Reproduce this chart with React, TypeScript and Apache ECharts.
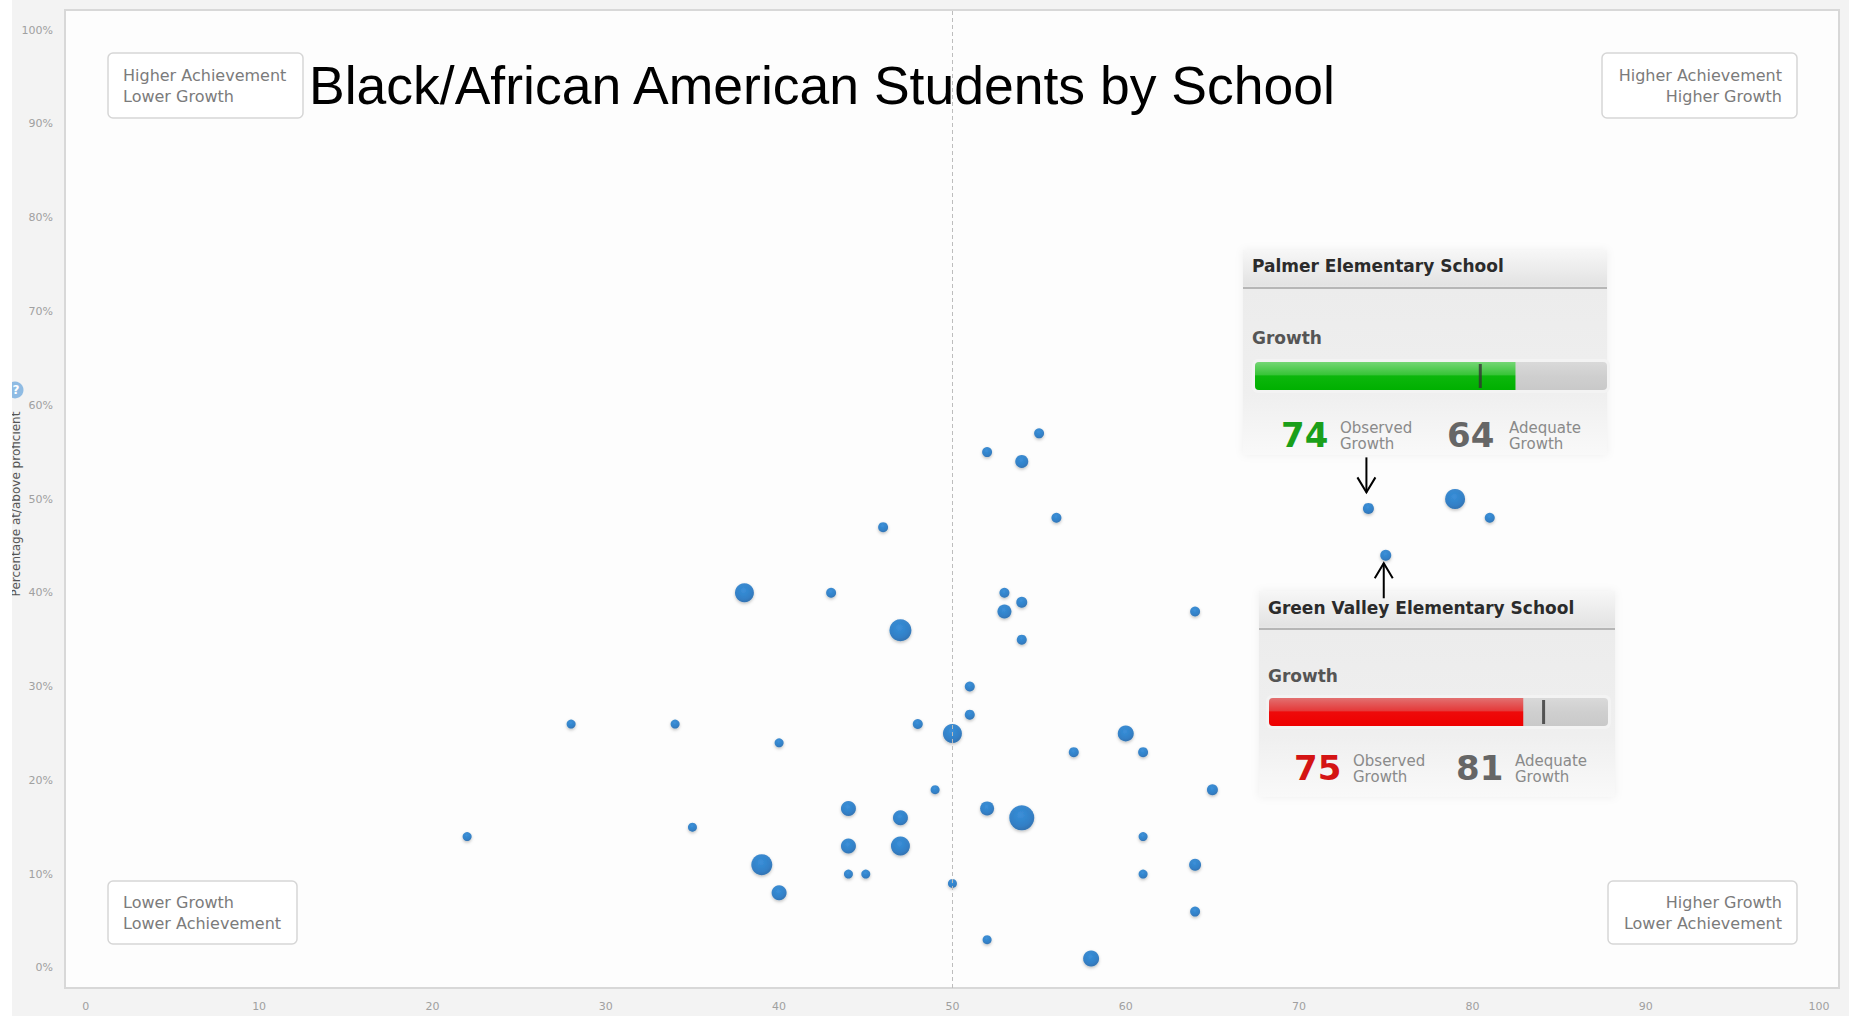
import React, { useEffect, useRef } from "react";
import * as echarts from "echarts";

// ---- data ----
const growthPct = [22, 28, 34, 35, 38, 39, 40, 40, 43, 44, 44, 44, 45, 46, 47, 47, 47, 48, 49, 50, 50, 51, 51, 52, 52, 52, 53, 53, 54, 54, 54, 54, 55, 56, 57, 58, 60, 61, 61, 61, 64, 64, 64, 65, 74, 75, 79, 81];
const achievementPct = [14, 26, 26, 15, 40, 11, 24, 8, 40, 17, 13, 10, 10, 47, 36, 16, 13, 26, 19, 25, 9, 30, 27, 55, 17, 3, 40, 38, 54, 39, 35, 16, 57, 48, 23, 1, 25, 23, 14, 10, 38, 11, 6, 19, 49, 44, 50, 48];
const bubbleWeight = [9, 9, 9, 9, 19, 21, 9, 15, 10, 15, 15, 9, 9, 10, 22, 15, 19, 10, 9, 19, 9, 10, 10, 10, 14, 9, 10, 14, 13, 11, 10, 25, 10, 10, 10, 16, 16, 10, 9, 9, 10, 12, 10, 11, 11, 11, 20, 10];
const xTicks = [0, 10, 20, 30, 40, 50, 60, 70, 80, 90, 100];
const yTicks = [0, 10, 20, 30, 40, 50, 60, 70, 80, 90, 100];
const growthMedian = 50;
const chartTitle = "Black/African American Students by School";
const yAxisName = "Percentage at/above proficient";
const quadrantTL = ["Higher Achievement", "Lower Growth"];
const quadrantTR = ["Higher Achievement", "Higher Growth"];
const quadrantBL = ["Lower Growth", "Lower Achievement"];
const quadrantBR = ["Higher Growth", "Lower Achievement"];
const highlightedSchools = ["Palmer Elementary School", "Green Valley Elementary School"];
const observedGrowth = [74, 75];
const adequateGrowth = [64, 81];
const highlightedPoints = [[74, 49], [75, 44]];

const FONT = "DejaVu Sans";

const lin = (stops: [number, string][]) => ({
  type: "linear", x: 0, y: 0, x2: 0, y2: 1,
  colorStops: stops.map(([offset, color]) => ({ offset, color })),
});

function quadBox(x: number, y: number, w: number, h: number, lines: string[], right: boolean, id: string) {
  return [
    { id: id + "r", type: "rect", z: 15, shape: { x, y, width: w, height: h, r: 5 }, style: { fill: "#ffffff", stroke: "#d6d6d6", lineWidth: 1.5 } },
    {
      id: id + "t", type: "text", z: 16, x: right ? x + w - 15 : x + 15, y: y + h / 2,
      style: { text: lines.join("\n"), fill: "#7b7b7b", fontFamily: FONT, fontSize: 16, lineHeight: 21, align: right ? "right" : "left", verticalAlign: "middle" },
    },
  ];
}

type PanelLayout = {
  x: number; y: number; w: number; h: number; lineY: number;
  headX: number; headY: number; growthY: number; numY: number;
  n1: number; l1: number; n2: number; l2: number; barL: number; barT: number; barW: number;
};

const panelLayouts: PanelLayout[] = [
  { x: 1243, y: 250, w: 364, h: 205, lineY: 288, headX: 1252, headY: 266, growthY: 338, numY: 435, n1: 1281, l1: 1340, n2: 1447, l2: 1509, barL: 1255, barT: 362, barW: 352 },
  { x: 1259, y: 591, w: 356, h: 206, lineY: 629, headX: 1268, headY: 608, growthY: 676, numY: 768, n1: 1294, l1: 1353, n2: 1456, l2: 1515, barL: 1269, barT: 698, barW: 339 },
];
const obsColors = ["#1a9f1a", "#d41414"];

function panel(i: number) {
  const p = panelLayouts[i];
  const id = "p" + i;
  return [
    { id: id + "bg", type: "rect", z: 14, shape: { x: p.x, y: p.y, width: p.w, height: p.h }, style: { fill: lin([[0, "#f7f7f7"], [0.17, "#e3e3e3"], [0.19, "#ececec"], [0.7, "#efefef"], [1, "#f9f9f9"]]), shadowBlur: 8, shadowColor: "rgba(0,0,0,0.06)" } },
    { id: id + "ln", type: "line", z: 15, shape: { x1: p.x, y1: p.lineY, x2: p.x + p.w, y2: p.lineY }, style: { stroke: "#a5a5a5", lineWidth: 1.5 } },
    { id: id + "hd", type: "text", z: 25, x: p.headX, y: p.headY, style: { text: highlightedSchools[i], fill: "#2b2b2b", fontFamily: FONT, fontWeight: "bold", fontSize: 17, align: "left", verticalAlign: "middle" } },
    { id: id + "gr", type: "text", z: 25, x: p.headX, y: p.growthY, style: { text: "Growth", fill: "#555555", fontFamily: FONT, fontWeight: "bold", fontSize: 17, align: "left", verticalAlign: "middle" } },
    { id: id + "bw", type: "rect", z: 15, shape: { x: p.barL - 3, y: p.barT - 3, width: p.barW + 6, height: 34, r: 6 }, style: { fill: "#f3f3f3" } },
    { id: id + "n1", type: "text", z: 25, x: p.n1, y: p.numY, style: { text: String(observedGrowth[i]), fill: obsColors[i], fontFamily: FONT, fontWeight: "bold", fontSize: 34, align: "left", verticalAlign: "middle" } },
    { id: id + "l1", type: "text", z: 25, x: p.l1, y: p.numY + 1, style: { text: "Observed\nGrowth", fill: "#8a8a8a", fontFamily: FONT, fontSize: 15, lineHeight: 16, align: "left", verticalAlign: "middle" } },
    { id: id + "n2", type: "text", z: 25, x: p.n2, y: p.numY, style: { text: String(adequateGrowth[i]), fill: "#666666", fontFamily: FONT, fontWeight: "bold", fontSize: 34, align: "left", verticalAlign: "middle" } },
    { id: id + "l2", type: "text", z: 25, x: p.l2, y: p.numY + 1, style: { text: "Adequate\nGrowth", fill: "#8a8a8a", fontFamily: FONT, fontSize: 15, lineHeight: 16, align: "left", verticalAlign: "middle" } },
  ];
}

function barSeries(i: number) {
  const colors = i === 0
    ? lin([[0, "#74d674"], [0.45, "#39c439"], [0.5, "#0cb70c"], [1, "#00b000"]])
    : lin([[0, "#e27070"], [0.45, "#e53a3a"], [0.5, "#ee0a0a"], [1, "#ee0000"]]);
  return [
    {
      type: "bar", xAxisIndex: i + 1, yAxisIndex: i + 1, data: [observedGrowth[i]], barWidth: 28, z: 20, silent: true,
      showBackground: true,
      backgroundStyle: { color: lin([[0, "#d9d9d9"], [0.5, "#cfcfcf"], [1, "#c9c9c9"]]), borderRadius: 4 },
      itemStyle: { color: colors, borderRadius: [4, 0, 0, 4] },
    },
    {
      type: "scatter", xAxisIndex: i + 1, yAxisIndex: i + 1, z: 22, silent: true,
      data: [[adequateGrowth[i], 0]],
      symbol: "rect", symbolSize: [3, 24],
      itemStyle: { color: "#333333" },
    },
  ];
}

function buildOption(arrows: any[]) {
  const scatterData = growthPct.map((g, i) => [g, achievementPct[i], bubbleWeight[i]]);
  return {
    animation: false,
    backgroundColor: "#f3f3f3",
    title: {
      text: chartTitle, left: 309, top: 58, padding: 0,
      textStyle: { fontFamily: "Liberation Sans", fontSize: 53.5, fontWeight: "normal", color: "#000000" },
    },
    grid: [
      { left: 65, top: 10, right: 10, bottom: 28, show: true, backgroundColor: "#fdfdfd", borderColor: "#d8d8d8", borderWidth: 2 },
      { left: panelLayouts[0].barL, top: panelLayouts[0].barT, width: panelLayouts[0].barW, height: 28 },
      { left: panelLayouts[1].barL, top: panelLayouts[1].barT, width: panelLayouts[1].barW, height: 28 },
    ],
    xAxis: [
      {
        type: "value", gridIndex: 0, min: -1.2, max: 101.15,
        axisLine: { show: false }, axisTick: { show: false }, splitLine: { show: false },
        axisLabel: { customValues: xTicks, color: "#a0a0a0", fontSize: 11, fontFamily: FONT, margin: 13 },
      },
      { type: "value", gridIndex: 1, min: 0, max: 100, show: false },
      { type: "value", gridIndex: 2, min: 0, max: 100, show: false },
    ],
    yAxis: [
      {
        type: "value", gridIndex: 0, min: -2.15, max: 102.15,
        axisLine: { show: false }, axisTick: { show: false }, splitLine: { show: false },
        axisLabel: { customValues: yTicks, formatter: "{value}%", color: "#a0a0a0", fontSize: 11, fontFamily: FONT, margin: 12 },
      },
      { type: "category", gridIndex: 1, data: ["Growth"], show: false },
      { type: "category", gridIndex: 2, data: ["Growth"], show: false },
    ],
    series: [
      {
        type: "scatter", xAxisIndex: 0, yAxisIndex: 0, z: 3, silent: true,
        data: scatterData,
        symbolSize: (v: number[]) => v[2],
        itemStyle: {
          color: { type: "radial", x: 0.45, y: 0.38, r: 0.7, colorStops: [{ offset: 0, color: "#187fd8" }, { offset: 0.65, color: "#0d6bc0" }, { offset: 1, color: "#08549c" }] },
          shadowBlur: 3, shadowColor: "rgba(0,0,0,0.3)", shadowOffsetY: 1.5,
        },
        markLine: {
          silent: true, symbol: ["none", "none"], label: { show: false }, animation: false,
          lineStyle: { color: "#bdbdbd", type: [4, 3], width: 1 },
          data: [{ xAxis: growthMedian }],
        },
      },
      ...barSeries(0),
      ...barSeries(1),
    ],
    graphic: {
      elements: [
        ...quadBox(108, 53, 195, 65, quadrantTL, false, "qtl"),
        ...quadBox(1602, 53, 195, 65, quadrantTR, true, "qtr"),
        ...quadBox(108, 881, 189, 63, quadrantBL, false, "qbl"),
        ...quadBox(1608, 881, 189, 63, quadrantBR, true, "qbr"),
        ...panel(0),
        ...panel(1),
        { id: "yname", type: "text", z: 30, x: 16, y: 504, rotation: Math.PI / 2, style: { text: yAxisName, fill: "#555555", fontFamily: FONT, fontSize: 12, align: "center", verticalAlign: "middle" } },
        { id: "qc", type: "circle", z: 30, shape: { cx: 15, cy: 390, r: 8.5 }, style: { fill: "#8fbbe3" } },
        { id: "qm", type: "text", z: 31, x: 16, y: 390, style: { text: "?", fill: "#ffffff", fontFamily: FONT, fontWeight: "bold", fontSize: 12, align: "center", verticalAlign: "middle" } },
        { id: "strip", type: "rect", z: 40, shape: { x: 0, y: 0, width: 12, height: 1016 }, style: { fill: "#ffffff" } },
        ...arrows,
      ],
    },
  };
}

export default function App() {
  const ref = useRef<HTMLDivElement>(null);
  useEffect(() => {
    if (!ref.current) return;
    const chart = echarts.init(ref.current, null, { renderer: "svg" });
    chart.setOption(buildOption([]) as any);
    const p0 = chart.convertToPixel({ gridIndex: 0 } as any, highlightedPoints[0]) as number[];
    const p1 = chart.convertToPixel({ gridIndex: 0 } as any, highlightedPoints[1]) as number[];
    const st = { stroke: "#000000", lineWidth: 2, fill: "none" };
    const ax = p0[0] - 2;
    const tip0 = p0[1] - 16;
    const bx = p1[0] - 2;
    const tip1 = p1[1] + 8;
    const arrows = [
      { id: "a0s", type: "polyline", z: 35, shape: { points: [[ax, tip0 - 35], [ax, tip0]] }, style: st },
      { id: "a0h", type: "polyline", z: 35, shape: { points: [[ax - 9, tip0 - 15], [ax, tip0], [ax + 9, tip0 - 15]] }, style: st },
      { id: "a1s", type: "polyline", z: 35, shape: { points: [[bx, tip1 + 35], [bx, tip1]] }, style: st },
      { id: "a1h", type: "polyline", z: 35, shape: { points: [[bx - 9, tip1 + 15], [bx, tip1], [bx + 9, tip1 + 15]] }, style: st },
    ];
    chart.setOption(buildOption(arrows) as any, { notMerge: true });
    return () => chart.dispose();
  }, []);
  return <div ref={ref} style={{ position: "absolute", left: 0, top: 0, width: 1849, height: 1016 }} />;
}
